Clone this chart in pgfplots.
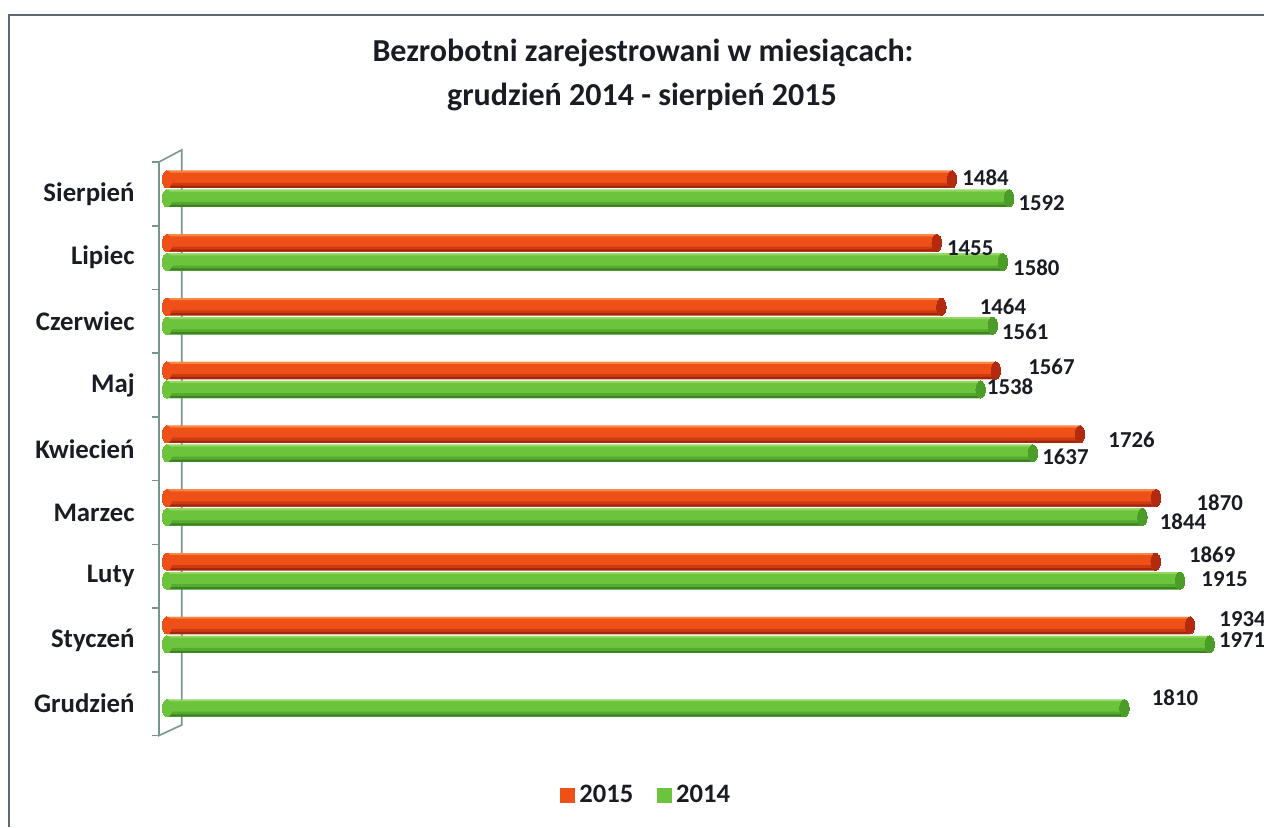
\documentclass[border=0pt]{standalone}
\usepackage{pgfplots}
\pgfplotsset{compat=1.18}
\usepackage{pgfplotstable}
\usepackage{fontspec}
\setmainfont{Carlito}
\definecolor{redtop}{RGB}{248,135,65}
\definecolor{redmid}{RGB}{238,80,24}
\definecolor{redlow}{RGB}{208,58,18}
\definecolor{redbot}{RGB}{160,40,14}
\definecolor{redcap}{RGB}{178,42,16}
\definecolor{grntop}{RGB}{150,215,100}
\definecolor{grnmid}{RGB}{108,195,60}
\definecolor{grnlow}{RGB}{86,170,48}
\definecolor{grnbot}{RGB}{58,132,34}
\definecolor{grncap}{RGB}{76,156,42}
\definecolor{wallcol}{RGB}{120,150,140}
\definecolor{bordercol}{RGB}{95,105,115}
\definecolor{txt}{RGB}{25,28,35}

% 2015 series: category index, value, label shift x (pt), label shift y (pt)
\pgfplotstableread{
y x dx dy
1 1934 14.5 3
2 1869 16.5 3.5
3 1870 20 -2.25
4 1726 14 -2.75
5 1567 16 2
6 1464 19 0
7 1455 5 -2.5
8 1484 5 1
}\dataA
% 2014 series
\pgfplotstableread{
y x dx dy
0 1810 13.5 5
1 1971 4.5 2
2 1915 10.5 1
3 1844 8.5 -2.25
4 1637 4.5 -1.75
5 1538 3 1.25
6 1561 4.5 -3.25
7 1580 5 -2.75
8 1592 4.5 -2.5
}\dataB

\pgfplotsset{
  lab/.style={
    point meta=explicit symbolic,
    nodes near coords={\pgfplotspointmeta},
    visualization depends on={\thisrow{dx} \as \dx},
    visualization depends on={\thisrow{dy} \as \dy},
    nodes near coords style={anchor=west, inner sep=0pt, xshift=\dx pt, yshift=\dy pt + #1,
      font=\bfseries\fontsize{11.4}{13}\selectfont, text=txt},
  },
  strip/.style 2 args={xbar, draw=none, fill=#1, bar width=#2, forget plot},
  cap/.style={only marks, mark=*, mark size=4.3pt, forget plot, color=#1,
    mark options={draw=#1, fill=#1, line width=0pt, xscale=0.55}},
}

\begin{document}
\begin{tikzpicture}
\path[use as bounding box] (0,0) rectangle (632pt,413.5pt);
\draw[bordercol, line width=0.8pt] (4.5pt,0) -- (4.5pt,406pt) -- (632pt,406pt);
\node[anchor=base, font=\bfseries\fontsize{16}{19}\selectfont, text=txt, inner sep=0pt]
  at (321.5pt,382.5pt) {Bezrobotni zarejestrowani w miesiącach:};
\node[anchor=base, font=\bfseries\fontsize{16}{19}\selectfont, text=txt, inner sep=0pt]
  at (321pt,361pt) {grudzień 2014 - sierpień 2015};
\begin{axis}[
  at={(79.5pt,45.75pt)}, anchor=south west,
  scale only axis, width=533pt, height=286.75pt,
  xmin=-15, xmax=2000, ymin=-0.5, ymax=8.5,
  clip=false,
  axis line style={draw=none},
  xtick=\empty,
  ytick={0,...,8},
  yticklabels={Grudzień, Styczeń, Luty, Marzec, Kwiecień, Maj, Czerwiec, Lipiec, Sierpień},
  ytick pos=left,
  major tick length=0pt,
  yticklabel style={font=\bfseries\fontsize{13.4}{15}\selectfont, text=txt, inner sep=0pt, xshift=-12pt},
  extra y ticks={-0.5,0.5,...,8.5},
  extra y tick labels={},
  extra y tick style={major tick length=3.5pt, tick align=outside, tick style={wallcol, line width=0.8pt}},
  reverse legend,
  legend columns=2,
  legend style={draw=none, fill=none, at={(0.458,-0.104)}, anchor=center,
    font=\bfseries\fontsize{13.3}{15}\selectfont, text=txt,
    /tikz/every even column/.append style={column sep=10pt}},
  legend image code/.code={\fill[#1] (0pt,-3.75pt) rectangle (7.5pt,3.75pt);},
]
\draw[wallcol, line width=0.8pt] (axis cs:-15,8.5) -- (axis cs:-15,-0.5) -- (axis cs:28,-0.335) -- (axis cs:28,8.69) -- cycle;
% ---- 2014 (green), cylinder look
\addplot[cap=grnmid] table[x expr=0, y expr=\thisrow{y}-0.07] {\dataB};
\addplot[xbar, draw=none, fill=grnmid, bar width=0.27, bar shift=-0.07, lab=-2.23pt]
  table[x=x, y=y, meta=x] {\dataB};
\addlegendentry{2014}
\addplot[strip={grntop}{0.03}, bar shift=0.05] table[x=x, y=y] {\dataB};
\addplot[strip={grnlow}{0.08}, bar shift=-0.165] table[x=x, y=y] {\dataB};
\addplot[strip={grnbot}{0.035}, bar shift=-0.1875] table[x=x, y=y] {\dataB};
\addplot[cap=grncap] table[x=x, y expr=\thisrow{y}-0.07] {\dataB};
% ---- 2015 (red), cylinder look
\addplot[cap=redmid] table[x expr=0, y expr=\thisrow{y}+0.228] {\dataA};
\addplot[xbar, draw=none, fill=redmid, bar width=0.27, bar shift=0.228, lab=7.26pt]
  table[x=x, y=y, meta=x] {\dataA};
\addlegendentry{2015}
\addplot[strip={redtop}{0.03}, bar shift=0.348] table[x=x, y=y] {\dataA};
\addplot[strip={redlow}{0.08}, bar shift=0.133] table[x=x, y=y] {\dataA};
\addplot[strip={redbot}{0.035}, bar shift=0.1105] table[x=x, y=y] {\dataA};
\addplot[cap=redcap] table[x=x, y expr=\thisrow{y}+0.228] {\dataA};
\end{axis}
\end{tikzpicture}
\end{document}
